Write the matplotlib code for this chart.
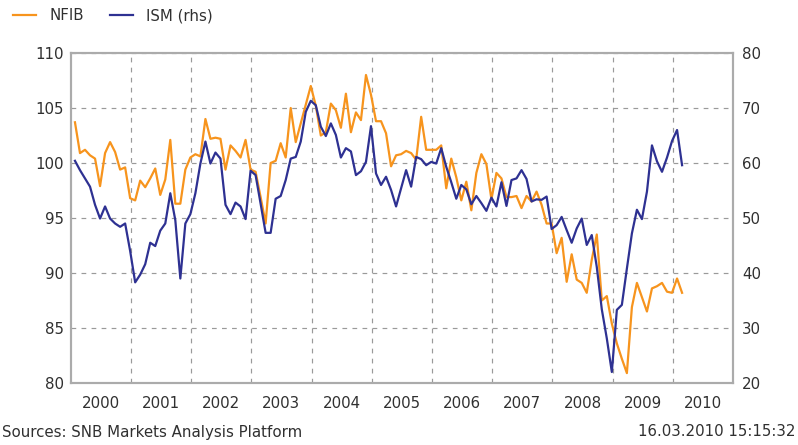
import matplotlib
matplotlib.use("Agg")
import matplotlib.pyplot as plt
from matplotlib.lines import Line2D
import numpy as np

plt.rcParams['font.family'] = ['DejaVu Sans']

# Monthly data, Jan 2000 .. Feb 2010
nfib = [
    103.7, 100.9, 101.2, 100.7, 100.4, 97.9, 100.9, 101.9, 101.0, 99.4, 99.6, 96.8,   # 2000
    96.6, 98.4, 97.8, 98.6, 99.5, 97.1, 98.5, 102.1, 96.3, 96.3, 99.4, 100.5,         # 2001
    100.8, 100.6, 104.0, 102.2, 102.3, 102.2, 99.4, 101.6, 101.1, 100.5, 102.1, 99.4, # 2002
    99.2, 96.9, 94.5, 100.0, 100.2, 101.8, 100.5, 105.0, 101.9, 103.6, 105.3, 107.0,  # 2003
    105.2, 102.5, 102.8, 105.4, 104.8, 103.2, 106.3, 102.8, 104.6, 103.9, 108.0, 106.2, # 2004
    103.8, 103.8, 102.7, 99.7, 100.7, 100.8, 101.1, 100.9, 100.3, 104.2, 101.2, 101.2, # 2005
    101.2, 101.6, 97.7, 100.4, 98.7, 96.6, 98.3, 95.7, 99.1, 100.8, 99.9, 96.7,       # 2006
    99.1, 98.6, 96.9, 96.9, 97.0, 95.9, 97.0, 96.5, 97.4, 96.2, 94.5, 94.5,           # 2007
    91.8, 93.2, 89.2, 91.7, 89.4, 89.1, 88.2, 91.2, 93.5, 87.5, 87.9, 85.4,           # 2008
    83.6, 82.2, 80.9, 86.9, 89.1, 87.8, 86.5, 88.6, 88.8, 89.1, 88.3, 88.2,           # 2009
    89.5, 88.2,                                                                        # 2010
]
ism = [
    60.4, 58.7, 57.2, 55.7, 52.4, 49.9, 52.1, 49.9, 49.0, 48.4, 49.0, 44.0,   # 2000
    38.3, 39.7, 41.6, 45.5, 44.9, 47.7, 49.0, 54.5, 49.6, 39.0, 49.0, 50.7,   # 2001
    54.5, 59.9, 63.9, 59.9, 61.9, 60.8, 52.4, 50.7, 52.8, 52.1, 49.8, 58.6,   # 2002
    57.8, 52.6, 47.3, 47.3, 53.5, 54.0, 56.9, 60.8, 61.1, 63.9, 69.3, 71.3,   # 2003
    70.5, 66.6, 64.9, 67.2, 65.1, 61.0, 62.7, 62.1, 57.8, 58.5, 60.2, 66.7,   # 2004
    58.1, 56.0, 57.5, 55.1, 52.1, 55.4, 58.7, 55.7, 61.1, 60.7, 59.6, 60.2,   # 2005
    59.9, 62.7, 59.3, 56.5, 53.5, 56.0, 55.2, 52.5, 54.0, 52.7, 51.3, 53.7,   # 2006
    52.1, 56.5, 52.2, 56.9, 57.2, 58.7, 57.1, 53.0, 53.4, 53.3, 53.9, 48.0,   # 2007
    48.7, 50.2, 47.8, 45.5, 48.1, 49.9, 45.1, 46.9, 41.1, 33.4, 28.1, 22.0,   # 2008
    33.3, 34.2, 40.8, 47.2, 51.5, 49.8, 54.8, 63.2, 60.3, 58.4, 61.0, 64.0,   # 2009
    66.0, 59.6,                                                               # 2010
]
years = list(range(2000, 2011))
left_ticks = [80, 85, 90, 95, 100, 105, 110]
right_ticks = [20, 30, 40, 50, 60, 70, 80]

orange = '#F7941D'
blue = '#2E3192'
grid_c = '#9a9a9a'
spine_c = '#ababab'
text_c = '#303030'
fs = 10.8

n = len(nfib)
x = 2000 + (np.arange(n) + 0.85) / 12.0

fig = plt.figure(figsize=(7.98, 4.45), dpi=100)
ax = fig.add_axes([70.7 / 798, 62 / 445, (733 - 70.7) / 798, 330 / 445])
ax2 = ax.twinx()

ax.plot(x, nfib, color=orange, lw=1.6, solid_joinstyle='round')
ax2.plot(x, ism, color=blue, lw=1.6, solid_joinstyle='round')

ax.set_xlim(2000, 2011)
ax.set_ylim(80, 110)
ax2.set_ylim(20, 80)
ax.set_yticks(left_ticks)
ax2.set_yticks(right_ticks)

ax.set_xticks(years[1:])
ax.set_xticklabels([])
ax.set_xticks([y + 0.5 for y in years], minor=True)
ax.set_xticklabels([str(y) for y in years], minor=True)

ax.grid(True, which='major', axis='both', color=grid_c, lw=0.85, linestyle=(0, (4, 4.5)))
ax.set_axisbelow(True)

for a in (ax, ax2):
    for s in a.spines.values():
        s.set_color(spine_c)
        s.set_linewidth(1.5)
    a.tick_params(which='both', length=0, labelsize=fs, colors=text_c)
ax.tick_params(axis='x', which='minor', pad=9)
ax.tick_params(axis='y', pad=5)
ax2.tick_params(axis='y', pad=6.5)

handles = [Line2D([], [], color=orange, lw=1.6), Line2D([], [], color=blue, lw=1.6)]
fig.legend(handles, ['NFIB', 'ISM (rhs)'], loc='upper left', bbox_to_anchor=(0.006, 1.0),
           ncol=2, frameon=False, fontsize=fs, handlelength=1.55, handletextpad=0.85,
           columnspacing=1.75, borderaxespad=0.15, labelcolor=text_c)

fig.text(2 / 798, 1 - 432 / 445, 'Sources: SNB Markets Analysis Platform', fontsize=fs,
         color=text_c, va='center', ha='left')
fig.text(796 / 798, 1 - 432 / 445, '16.03.2010 15:15:32', fontsize=fs,
         color=text_c, va='center', ha='right')

fig.savefig('out.png', dpi=100)
